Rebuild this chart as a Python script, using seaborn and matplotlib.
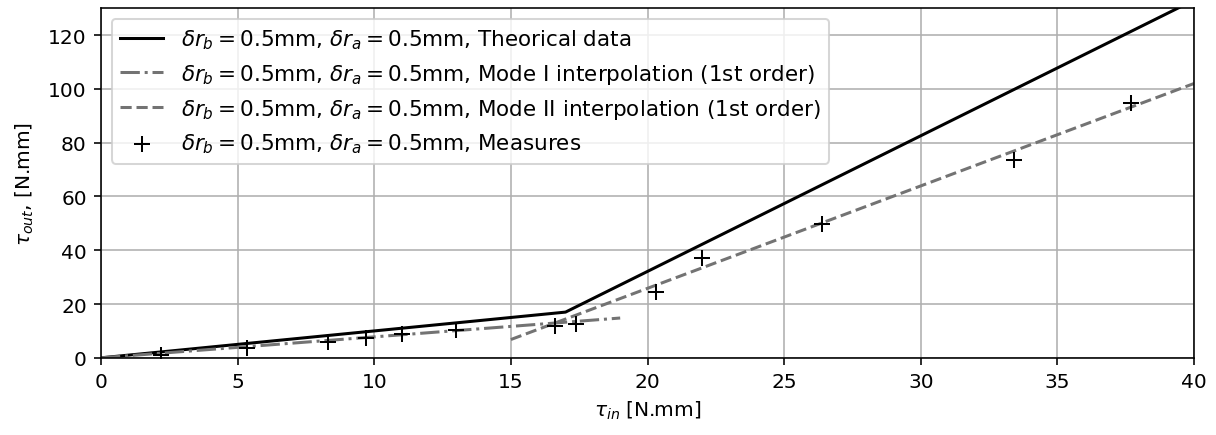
import matplotlib
matplotlib.use("Agg")
import matplotlib.pyplot as plt
import seaborn as sns
import numpy as np
import pandas as pd

# Theoretical data (piecewise linear)
theo_x = [0.0, 17.0, 40.0]
theo_y = [0.0, 17.0, 133.0]

# Mode I interpolation (1st order)
mode1_x = [0.0, 19.0]
mode1_y = [0.0, 14.8]

# Mode II interpolation (1st order)
mode2_x = [15.0, 40.0]
mode2_y = [6.8, 102.0]

# Measures
meas_x = [2.2, 5.35, 8.3, 9.7, 11.0, 13.0, 16.6, 17.4, 20.3, 22.0, 26.4, 33.4, 37.7]
meas_y = [1.1, 3.7, 5.8, 7.5, 8.9, 10.4, 11.7, 12.6, 24.5, 37.0, 49.8, 73.5, 94.8]

lab_prefix = r"$\delta r_b = 0.5$mm, $\delta r_a = 0.5$mm, "

plt.rcParams['font.family'] = ['DejaVu Sans']
plt.rcParams['font.size'] = 10

DPI = 145
fig, ax = plt.subplots(figsize=(1216 / DPI, 436 / DPI), dpi=DPI)
fig.subplots_adjust(left=0.083, right=0.982, top=0.979, bottom=0.177)

sns.lineplot(x=theo_x, y=theo_y, ax=ax, color='black', linewidth=1.5,
             label=lab_prefix + "Theorical data", sort=False)
sns.lineplot(x=mode1_x, y=mode1_y, ax=ax, color='0.45', linewidth=1.5,
             linestyle='-.', label=lab_prefix + "Mode I interpolation (1st order)", sort=False)
sns.lineplot(x=mode2_x, y=mode2_y, ax=ax, color='0.45', linewidth=1.5,
             linestyle='--', label=lab_prefix + "Mode II interpolation (1st order)", sort=False)
sns.scatterplot(x=meas_x, y=meas_y, ax=ax, marker='+', color='black', s=65,
                linewidth=1.0, label=lab_prefix + "Measures", zorder=5)

ax.set_xlim(0, 40)
ax.set_ylim(0, 130)
ax.set_xticks([0, 5, 10, 15, 20, 25, 30, 35, 40])
ax.set_yticks([0, 20, 40, 60, 80, 100, 120])
ax.grid(True, color='#b0b0b0', linewidth=0.8)
ax.set_axisbelow(True)
ax.set_xlabel(r"$\tau_{in}$ [N.mm]")
ax.set_ylabel(r"$\tau_{out}$, [N.mm]", labelpad=6)
ax.legend(loc='upper left', fontsize=10.7, labelspacing=0.5)

fig.savefig("out.png", dpi=DPI)
